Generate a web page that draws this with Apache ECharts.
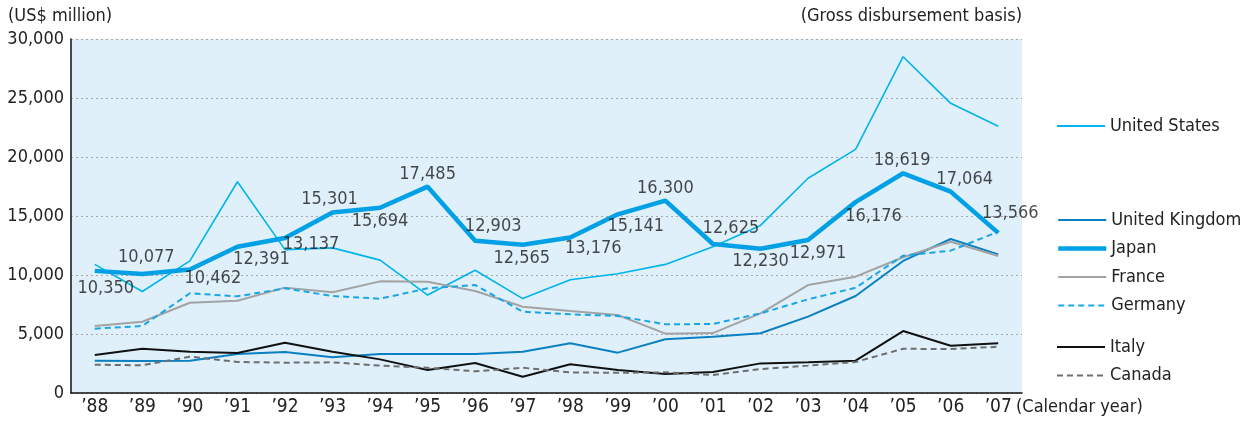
<!DOCTYPE html>
<html>
<head>
<meta charset="utf-8">
<script src="https://cdn.jsdelivr.net/npm/echarts@6/dist/echarts.min.js"></script>
<style>
  html, body { margin: 0; padding: 0; background: #fff; }
  #chart { width: 1242px; height: 423px; }
</style>
</head>
<body>
<div id="chart"></div>
<script>
var years = ['\u201988', '\u201989', '\u201990', '\u201991', '\u201992', '\u201993', '\u201994', '\u201995', '\u201996', '\u201997',
    '\u201998', '\u201999', '\u201900', '\u201901', '\u201902', '\u201903', '\u201904', '\u201905', '\u201906', '\u201907']

var unitedStates = [10900, 8600, 11200, 17900, 12150, 12300, 11260, 8300, 10400, 8000,
    9600, 10100, 10900, 12400, 14200, 18200, 20650, 28500, 24550, 22600]
var unitedKingdom = [2740, 2710, 2740, 3300, 3470, 3030, 3300, 3300, 3300, 3500,
    4210, 3420, 4550, 4770, 5060, 6470, 8220, 11190, 13050, 11750]
var japan = [10350, 10077, 10462, 12391, 13137, 15301, 15694, 17485, 12903, 12565,
    13176, 15141, 16300, 12625, 12230, 12971, 16176, 18619, 17064, 13566]
var france = [5680, 6040, 7650, 7820, 8930, 8530, 9460, 9430, 8640, 7310,
    6950, 6610, 5030, 5080, 6750, 9150, 9860, 11500, 12820, 11610]
var germany = [5450, 5680, 8450, 8190, 8870, 8220, 7990, 8870, 9150, 6890,
    6670, 6530, 5820, 5850, 6750, 7940, 8920, 11640, 12060, 13670]
var italy = [3220, 3750, 3500, 3390, 4260, 3500, 2850, 1950, 2540, 1380,
    2430, 1950, 1610, 1780, 2510, 2600, 2740, 5250, 4010, 4210]
var canada = [2400, 2350, 3080, 2630, 2570, 2600, 2320, 2140, 1840, 2140,
    1750, 1710, 1750, 1530, 2030, 2320, 2630, 3750, 3720, 3920]

var yTicks = [0, 5000, 10000, 15000, 20000, 25000, 30000]

// where each Japan label sits relative to its point (px)
var japanLabelOffsets = [[11, 17], [4, -17], [23, 9], [24, 13], [26, 6], [-3, -13], [0, 14], [0, -12], [18, -14], [-1, 14],
    [23, 11], [18, 12], [0, -12], [18, -16], [0, 13], [10, 13], [18, 14], [-1, -13], [14, -12], [12, -20]]

var font = '"DejaVu Sans Condensed", "Liberation Sans Narrow", sans-serif'

function fmt(v) {
    return String(v).replace(/\B(?=(\d{3})+(?!\d))/g, ',')
}

function lineSeries(name, data, color, width, type) {
    return {
        name: name,
        type: 'line',
        data: data,
        symbol: 'none',
        silent: true,
        lineStyle: { color: color, width: width, type: type || 'solid' },
        itemStyle: { color: color },
        z: name === 'Japan' ? 5 : 3
    }
}

var labelData = []
for (var i = 0; i < japan.length; i++) {
    labelData.push({
        value: japan[i],
        label: { offset: japanLabelOffsets[i] }
    })
}

var legendBase = {
    orient: 'vertical',
    left: 1051,
    itemWidth: 48,
    itemHeight: 12,
    itemGap: 10.5,
    itemStyle: { opacity: 0 },
    textStyle: { fontFamily: font, fontSize: 18, color: '#222' },
    selectedMode: false
}

var option = {
    animation: false,
    backgroundColor: '#ffffff',
    grid: {
        left: 71, right: 220, top: 39, bottom: 30,
        show: true, backgroundColor: '#dff0fa', borderWidth: 0
    },
    legend: [
        Object.assign({}, legendBase, { top: 112, data: ['United States'] }),
        Object.assign({}, legendBase, {
            top: 206,
            data: ['United Kingdom', { name: 'Japan', lineStyle: { width: 4.5 } }, 'France', 'Germany']
        }),
        Object.assign({}, legendBase, { top: 333, data: ['Italy', 'Canada'] })
    ],
    xAxis: {
        type: 'category',
        data: years,
        boundaryGap: true,
        axisLine: { lineStyle: { color: '#111', width: 1.5 } },
        axisTick: { alignWithLabel: true, inside: true, length: 7, lineStyle: { color: '#111' } },
        axisLabel: { fontFamily: font, fontSize: 19, color: '#222', margin: 5 }
    },
    yAxis: {
        type: 'value',
        min: yTicks[0],
        max: yTicks[yTicks.length - 1],
        interval: 5000,
        axisLine: { show: true, lineStyle: { color: '#111', width: 1.5 } },
        axisTick: { show: false },
        axisLabel: { fontFamily: font, fontSize: 18, color: '#222', margin: 7, formatter: fmt },
        splitLine: { lineStyle: { color: '#a8a8a8', type: [2, 3], width: 1 } }
    },
    graphic: [
        { type: 'text', left: 8, top: 7, style: { text: '(US$ million)', font: '18px ' + font, fill: '#222' } },
        { type: 'text', right: 220, top: 7, style: { text: '(Gross disbursement basis)', font: '18px ' + font, fill: '#222' } },
        { type: 'text', left: 1016, top: 398, style: { text: '(Calendar year)', font: '18px ' + font, fill: '#222' } }
    ],
    series: [
        lineSeries('United States', unitedStates, '#00b4ec', 1.6),
        lineSeries('United Kingdom', unitedKingdom, '#0a80c2', 2),
        lineSeries('France', france, '#a3a3a3', 2),
        lineSeries('Germany', germany, '#1aa6e6', 2, [6, 4]),
        lineSeries('Italy', italy, '#111111', 2),
        lineSeries('Canada', canada, '#6e6e6e', 2, [6, 4]),
        lineSeries('Japan', japan, '#00a0e6', 4.5),
        {
            name: 'JapanLabels',
            type: 'scatter',
            data: labelData,
            symbolSize: 0,
            silent: true,
            z: 6,
            label: {
                show: true,
                position: 'inside',
                formatter: function (p) { return fmt(p.value) },
                fontFamily: font,
                fontSize: 18,
                color: '#1a1a1a'
            }
        }
    ]
}

var myChart = echarts.init(document.getElementById('chart'))
myChart.setOption(option)
</script>
</body>
</html>
